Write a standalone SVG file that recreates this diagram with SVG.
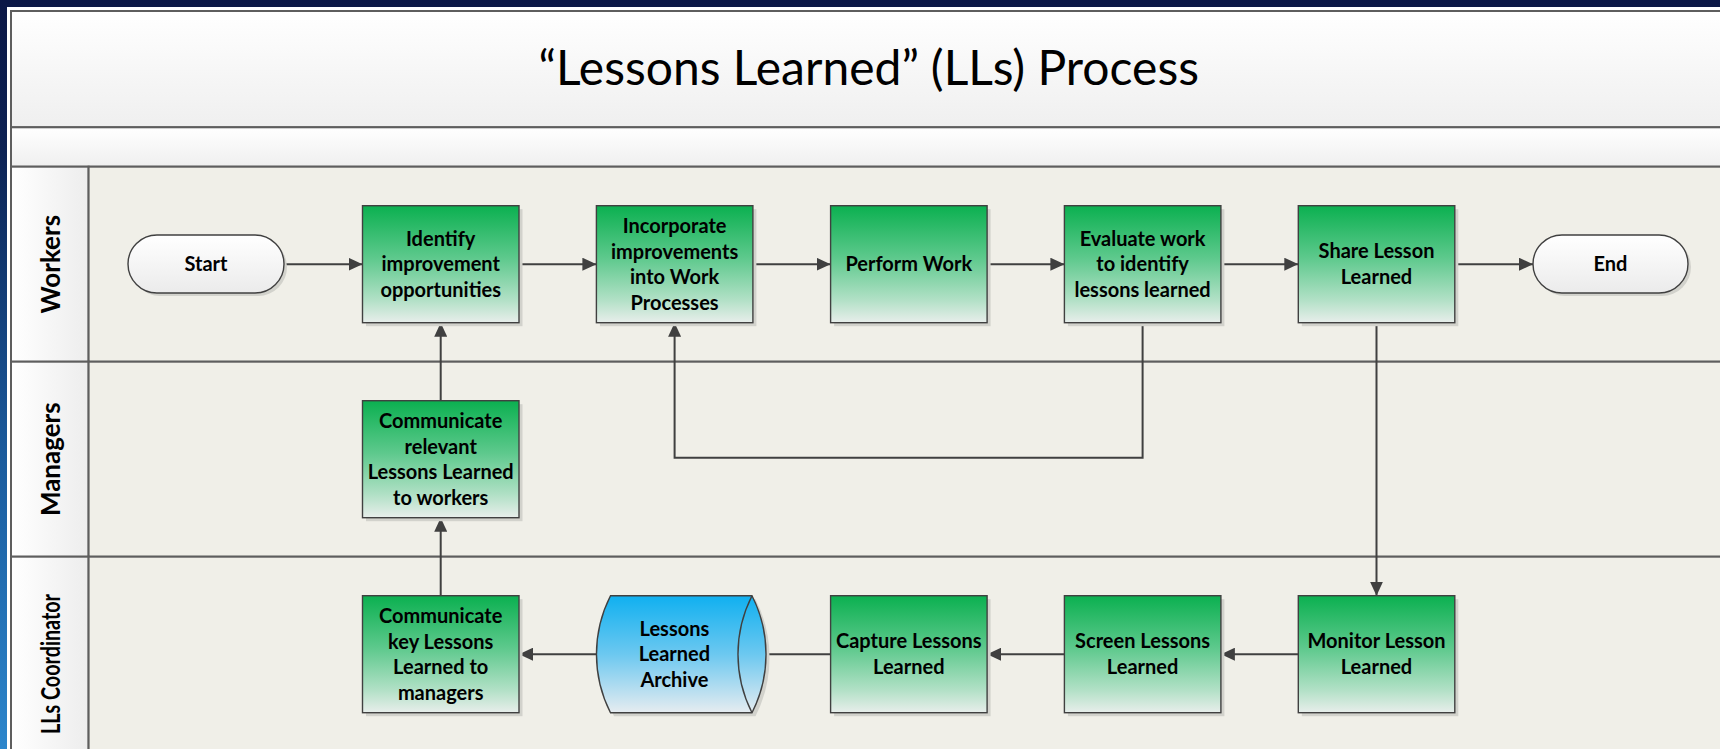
<svg xmlns="http://www.w3.org/2000/svg" width="1720" height="749" viewBox="0 0 1720 749">
  <defs>
    <linearGradient id="bgBlue" x1="0" y1="0" x2="0" y2="1">
      <stop offset="0" stop-color="#0b1746"/>
      <stop offset="0.2" stop-color="#0c2254"/>
      <stop offset="0.6" stop-color="#1a5a9c"/>
      <stop offset="1" stop-color="#2c86cc"/>
    </linearGradient>
    <linearGradient id="bandGrad" x1="0" y1="0" x2="0" y2="1">
      <stop offset="0" stop-color="#ffffff"/>
      <stop offset="1" stop-color="#efefef"/>
    </linearGradient>
    <linearGradient id="headGrad" x1="0" y1="0" x2="1" y2="0">
      <stop offset="0" stop-color="#ffffff"/>
      <stop offset="1" stop-color="#ededed"/>
    </linearGradient>
    <linearGradient id="greenGrad" x1="0" y1="0" x2="0" y2="1">
      <stop offset="0" stop-color="#0bb050"/>
      <stop offset="0.45" stop-color="#5ec98d"/>
      <stop offset="0.8" stop-color="#b0e0c5"/>
      <stop offset="1" stop-color="#e8eeeb"/>
    </linearGradient>
    <linearGradient id="blueGrad" x1="0" y1="0" x2="0" y2="1">
      <stop offset="0" stop-color="#10b0f0"/>
      <stop offset="0.5" stop-color="#6cc8f0"/>
      <stop offset="1" stop-color="#e6ecf0"/>
    </linearGradient>
    <linearGradient id="termGrad" x1="0" y1="0" x2="0" y2="1">
      <stop offset="0" stop-color="#ffffff"/>
      <stop offset="1" stop-color="#ebebeb"/>
    </linearGradient>
    <marker id="arrow" markerWidth="14" markerHeight="13" refX="14" refY="6.5" orient="auto" markerUnits="userSpaceOnUse">
      <path d="M0,0 L14,6.5 L0,13 Z" fill="#404040"/>
    </marker>
    <style>
      .frame { stroke: #5e5e5e; stroke-width: 2; }
      .lane { fill: #f0efe8; }
      .lanehead { fill: url(#headGrad); }
      .lanelabel { font-family: Lato, "Open Sans", "Liberation Sans", sans-serif; font-weight: bold; font-size: 26px; fill: #000; text-anchor: middle; }
      .title { font-family: Lato, "Open Sans", "Liberation Sans", sans-serif; font-size: 48px; fill: #000; text-anchor: middle; }
      .shadow { fill: #d2d2cc; }
      .task { fill: url(#greenGrad); stroke: #404040; stroke-width: 1.4; }
      .store { fill: url(#blueGrad); stroke: #404040; stroke-width: 1.4; }
      .term { fill: url(#termGrad); stroke: #404040; stroke-width: 1.4; }
      .label { font-family: Lato, "Open Sans", "Liberation Sans", sans-serif; font-weight: bold; font-size: 20px; fill: #000; text-anchor: middle; }
      .conn { fill: none; stroke: #404040; stroke-width: 2; marker-end: url(#arrow); }
    </style>
  </defs>

  <!-- slide background and white margin -->
  <rect x="0" y="0" width="1720" height="749" fill="url(#bgBlue)"/>
  <rect x="7" y="7" width="1713" height="742" fill="#ffffff"/>

  <!-- title band -->
  <g id="title-band">
    <rect x="11" y="11" width="1720" height="116.3" fill="url(#bandGrad)" class="frame"/>
    <text class="title" x="868.7" y="85">“Lessons Learned” (LLs) Process</text>
  </g>
  <rect x="11" y="127.3" width="1720" height="39.4" fill="url(#bandGrad)" class="frame"/>

  <!-- swimlanes -->
  <g id="lane-workers">
    <rect x="11" y="166.7" width="77.6" height="195" class="lanehead frame"/>
    <rect x="88.6" y="166.7" width="1640" height="195" class="lane frame"/>
    <text class="lanelabel" transform="translate(60,264.2) rotate(-90)">Workers</text>
  </g>
  <g id="lane-managers">
    <rect x="11" y="361.7" width="77.6" height="195" class="lanehead frame"/>
    <rect x="88.6" y="361.7" width="1640" height="195" class="lane frame"/>
    <text class="lanelabel" transform="translate(60,459.2) rotate(-90)">Managers</text>
  </g>
  <g id="lane-coordinator">
    <rect x="11" y="556.7" width="77.6" height="220" class="lanehead frame"/>
    <rect x="88.6" y="556.7" width="1640" height="220" class="lane frame"/>
    <text class="lanelabel" transform="translate(60,664) rotate(-90)" font-size="24" textLength="140" lengthAdjust="spacingAndGlyphs">LLs Coordinator</text>
  </g>

  <!-- connectors -->
  <g id="connectors">
    <path class="conn" d="M284,264.2 H362.5"/>
    <path class="conn" d="M519,264.2 H596.4"/>
    <path class="conn" d="M752.9,264.2 H830.6"/>
    <path class="conn" d="M987.1,264.2 H1064.4"/>
    <path class="conn" d="M1220.9,264.2 H1298.3"/>
    <path class="conn" d="M1454.8,264.2 H1533"/>
    <path class="conn" d="M1142.6,322.7 V457.7 H674.6 V322.7"/>
    <path class="conn" d="M1376.5,322.7 V595.7"/>
    <path class="conn" d="M1298.3,654.2 H1220.9"/>
    <path class="conn" d="M1064.4,654.2 H987.1"/>
    <path class="conn" d="M830.6,654.2 H753"/>
    <path class="conn" d="M596.4,654.2 H519"/>
    <path class="conn" d="M440.7,595.7 V517.7"/>
    <path class="conn" d="M440.7,400.7 V322.7"/>
  </g>

  <!-- nodes -->
  <g id="start">
    <rect x="131" y="238" width="156" height="58" rx="29" class="shadow"/>
    <rect x="128" y="235" width="156" height="58" rx="29" class="term"/>
    <text class="label" x="206" y="271.2">Start</text>
  </g>
  <g id="end">
    <rect x="1536" y="238" width="155" height="58" rx="29" class="shadow"/>
    <rect x="1533" y="235" width="155" height="58" rx="29" class="term"/>
    <text class="label" x="1610.5" y="271.2">End</text>
  </g>

  <g id="identify">
    <rect x="366" y="209.2" width="156.5" height="117" class="shadow"/>
    <rect x="362.5" y="205.7" width="156.5" height="117" class="task"/>
    <text class="label" x="440.7" y="245.7"><tspan x="440.7">Identify</tspan><tspan x="440.7" dy="25.5">improvement</tspan><tspan x="440.7" dy="25.5">opportunities</tspan></text>
  </g>
  <g id="incorporate">
    <rect x="599.9" y="209.2" width="156.5" height="117" class="shadow"/>
    <rect x="596.4" y="205.7" width="156.5" height="117" class="task"/>
    <text class="label" x="674.6" y="233"><tspan x="674.6">Incorporate</tspan><tspan x="674.6" dy="25.5">improvements</tspan><tspan x="674.6" dy="25.5">into Work</tspan><tspan x="674.6" dy="25.5">Processes</tspan></text>
  </g>
  <g id="perform">
    <rect x="834.1" y="209.2" width="156.5" height="117" class="shadow"/>
    <rect x="830.6" y="205.7" width="156.5" height="117" class="task"/>
    <text class="label" x="908.8" y="271.2">Perform Work</text>
  </g>
  <g id="evaluate">
    <rect x="1067.9" y="209.2" width="156.5" height="117" class="shadow"/>
    <rect x="1064.4" y="205.7" width="156.5" height="117" class="task"/>
    <text class="label" x="1142.6" y="245.7"><tspan x="1142.6">Evaluate work</tspan><tspan x="1142.6" dy="25.5">to identify</tspan><tspan x="1142.6" dy="25.5">lessons learned</tspan></text>
  </g>
  <g id="share">
    <rect x="1301.8" y="209.2" width="156.5" height="117" class="shadow"/>
    <rect x="1298.3" y="205.7" width="156.5" height="117" class="task"/>
    <text class="label" x="1376.5" y="258.4"><tspan x="1376.5">Share Lesson</tspan><tspan x="1376.5" dy="25.5">Learned</tspan></text>
  </g>

  <g id="communicate-relevant">
    <rect x="366" y="404.2" width="156.5" height="117" class="shadow"/>
    <rect x="362.5" y="400.7" width="156.5" height="117" class="task"/>
    <text class="label" x="440.7" y="428"><tspan x="440.7">Communicate</tspan><tspan x="440.7" dy="25.5">relevant</tspan><tspan x="440.7" dy="25.5">Lessons Learned</tspan><tspan x="440.7" dy="25.5">to workers</tspan></text>
  </g>

  <g id="communicate-key">
    <rect x="366" y="599.2" width="156.5" height="117" class="shadow"/>
    <rect x="362.5" y="595.7" width="156.5" height="117" class="task"/>
    <text class="label" x="440.7" y="623"><tspan x="440.7">Communicate</tspan><tspan x="440.7" dy="25.5">key Lessons</tspan><tspan x="440.7" dy="25.5">Learned to</tspan><tspan x="440.7" dy="25.5">managers</tspan></text>
  </g>
  <g id="archive">
    <path class="shadow" d="M614,599.2 H755.5 A129,129 0 0 1 755.5,716.2 H614 A129,129 0 0 1 614,599.2 Z"/>
    <path class="store" d="M610.5,595.7 H752 A129,129 0 0 1 752,712.7 H610.5 A129,129 0 0 1 610.5,595.7 Z"/>
    <path d="M752,595.7 A129,129 0 0 0 752,712.7" fill="none" stroke="#404040" stroke-width="1.4"/>
    <text class="label" x="674.4" y="635.7"><tspan x="674.4">Lessons</tspan><tspan x="674.4" dy="25.5">Learned</tspan><tspan x="674.4" dy="25.5">Archive</tspan></text>
  </g>
  <g id="capture">
    <rect x="834.1" y="599.2" width="156.5" height="117" class="shadow"/>
    <rect x="830.6" y="595.7" width="156.5" height="117" class="task"/>
    <text class="label" x="908.8" y="648.4"><tspan x="908.8">Capture Lessons</tspan><tspan x="908.8" dy="25.5">Learned</tspan></text>
  </g>
  <g id="screen">
    <rect x="1067.9" y="599.2" width="156.5" height="117" class="shadow"/>
    <rect x="1064.4" y="595.7" width="156.5" height="117" class="task"/>
    <text class="label" x="1142.6" y="648.4"><tspan x="1142.6">Screen Lessons</tspan><tspan x="1142.6" dy="25.5">Learned</tspan></text>
  </g>
  <g id="monitor">
    <rect x="1301.8" y="599.2" width="156.5" height="117" class="shadow"/>
    <rect x="1298.3" y="595.7" width="156.5" height="117" class="task"/>
    <text class="label" x="1376.5" y="648.4"><tspan x="1376.5">Monitor Lesson</tspan><tspan x="1376.5" dy="25.5">Learned</tspan></text>
  </g>
</svg>
